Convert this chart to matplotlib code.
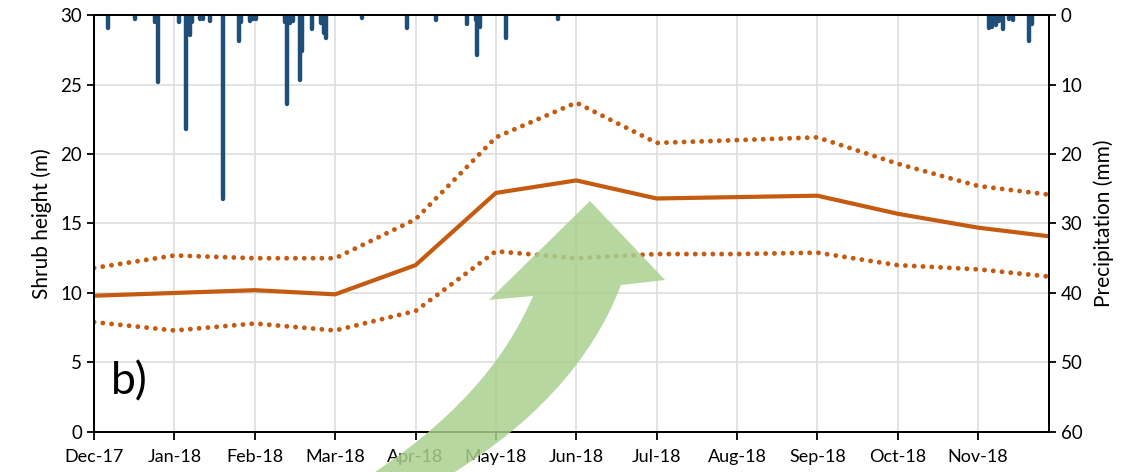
import matplotlib.pyplot as plt
from matplotlib.path import Path
from matplotlib.patches import PathPatch
from matplotlib.transforms import Affine2D

plt.rcParams["font.family"] = ["Lato", "DejaVu Sans"]

# month labels (x axis is in month units, 0 = Dec-17)
months = ["Dec-17", "Jan-18", "Feb-18", "Mar-18", "Apr-18", "May-18", "Jun-18",
          "Jul-18", "Aug-18", "Sep-18", "Oct-18", "Nov-18"]

# shrub height (m): mean and upper/lower bounds
h_x = [0, 1, 2, 3, 4, 5, 6, 7, 8, 9, 10, 11, 11.85]
h_mean = [9.8, 10.0, 10.2, 9.9, 12.0, 17.2, 18.1, 16.8, 16.9, 17.0, 15.7, 14.7, 14.1]
h_upper = [11.8, 12.7, 12.5, 12.5, 15.3, 21.2, 23.7, 20.8, 21.0, 21.2, 19.3, 17.7, 17.1]
h_lower = [7.9, 7.3, 7.8, 7.3, 8.7, 13.0, 12.5, 12.8, 12.8, 12.9, 12.0, 11.7, 11.2]

# daily precipitation (mm), position in months
p_x = [0.17, 0.51, 0.76, 0.79, 1.06, 1.15, 1.19, 1.22, 1.32, 1.36, 1.44, 1.61,
       1.80, 1.83, 1.94, 1.98, 2.02, 2.38, 2.40, 2.44, 2.48, 2.56, 2.59, 2.71,
       2.82, 2.86, 2.89, 3.33, 3.89, 4.25, 4.64, 4.75, 4.77, 4.80, 5.12, 5.77,
       11.14, 11.17, 11.22, 11.26, 11.31, 11.38, 11.44, 11.63, 11.67]
p_mm = [1.8, 0.6, 1.0, 9.7, 1.0, 16.4, 2.9, 1.0, 0.6, 0.6, 0.9, 26.5,
        3.8, 1.0, 0.8, 0.5, 0.5, 1.0, 12.8, 1.2, 0.8, 9.4, 5.1, 2.0,
        1.2, 2.6, 3.3, 0.4, 1.8, 0.7, 1.3, 0.7, 5.8, 1.7, 3.3, 0.5,
        1.8, 1.7, 1.4, 0.8, 2.0, 0.5, 0.7, 3.8, 1.3]

orange = "#c55a11"
blue = "#1f4e79"

fig = plt.figure(figsize=(11.4, 4.72), dpi=100)
ax = fig.add_axes([0.0825, 0.085, 0.8375, 0.883])

ax.plot(h_x, h_mean, color=orange, lw=3, zorder=3)
for ys in (h_upper, h_lower):
    ax.plot(h_x, ys, color=orange, lw=3.5, linestyle=(0, (0.01, 1.8)),
            dash_capstyle="round", zorder=3)

ax.set_xlim(0, 11.88)
ax.set_ylim(0, 30)
ax.set_xticks(range(len(months)))
ax.set_xticklabels(months, fontsize=13)
ax.set_yticks(range(0, 31, 5))
ax.tick_params(axis="y", labelsize=13.5, direction="out", length=5, width=1.3)
ax.tick_params(axis="x", direction="out", length=6, width=1.3, pad=6)
ax.grid(True, color="#dedede", lw=1.2)
ax.set_axisbelow(True)
ax.set_ylabel("Shrub height (m)", fontsize=15, labelpad=6)
for s in ax.spines.values():
    s.set_linewidth(1.4)
ax.text(0.018, 0.09, "b)", transform=ax.transAxes, fontsize=32)

# precipitation on inverted secondary axis
ax2 = ax.twinx()
ax2.vlines(p_x, 0, p_mm, color=blue, lw=3.2, capstyle="round", zorder=2)
ax2.set_ylim(60, 0)
ax2.set_yticks(range(0, 61, 10))
ax2.tick_params(axis="y", labelsize=13.5, direction="out", length=5, width=1.3)
ax2.set_ylabel("Precipitation (mm)", fontsize=15, labelpad=8)
for s in ax2.spines.values():
    s.set_linewidth(1.4)

# green curved arrow (decoration, figure pixel coords)
verts = [(366, 478), (490, 398), (533, 296), (489, 300), (590, 201),
         (665, 280), (621, 285), (578, 398), (445, 478), (366, 478)]
codes = [Path.MOVETO, Path.CURVE3, Path.CURVE3, Path.LINETO, Path.LINETO,
         Path.LINETO, Path.LINETO, Path.CURVE3, Path.CURVE3, Path.CLOSEPOLY]
px2fig = Affine2D().scale(1 / 1140, -1 / 472).translate(0, 1) + fig.transFigure
arrow = PathPatch(Path(verts, codes), facecolor="#a9d18e", edgecolor="none",
                  alpha=0.85, transform=px2fig, zorder=5)
fig.add_artist(arrow)

fig.savefig("out.png", dpi=100)
